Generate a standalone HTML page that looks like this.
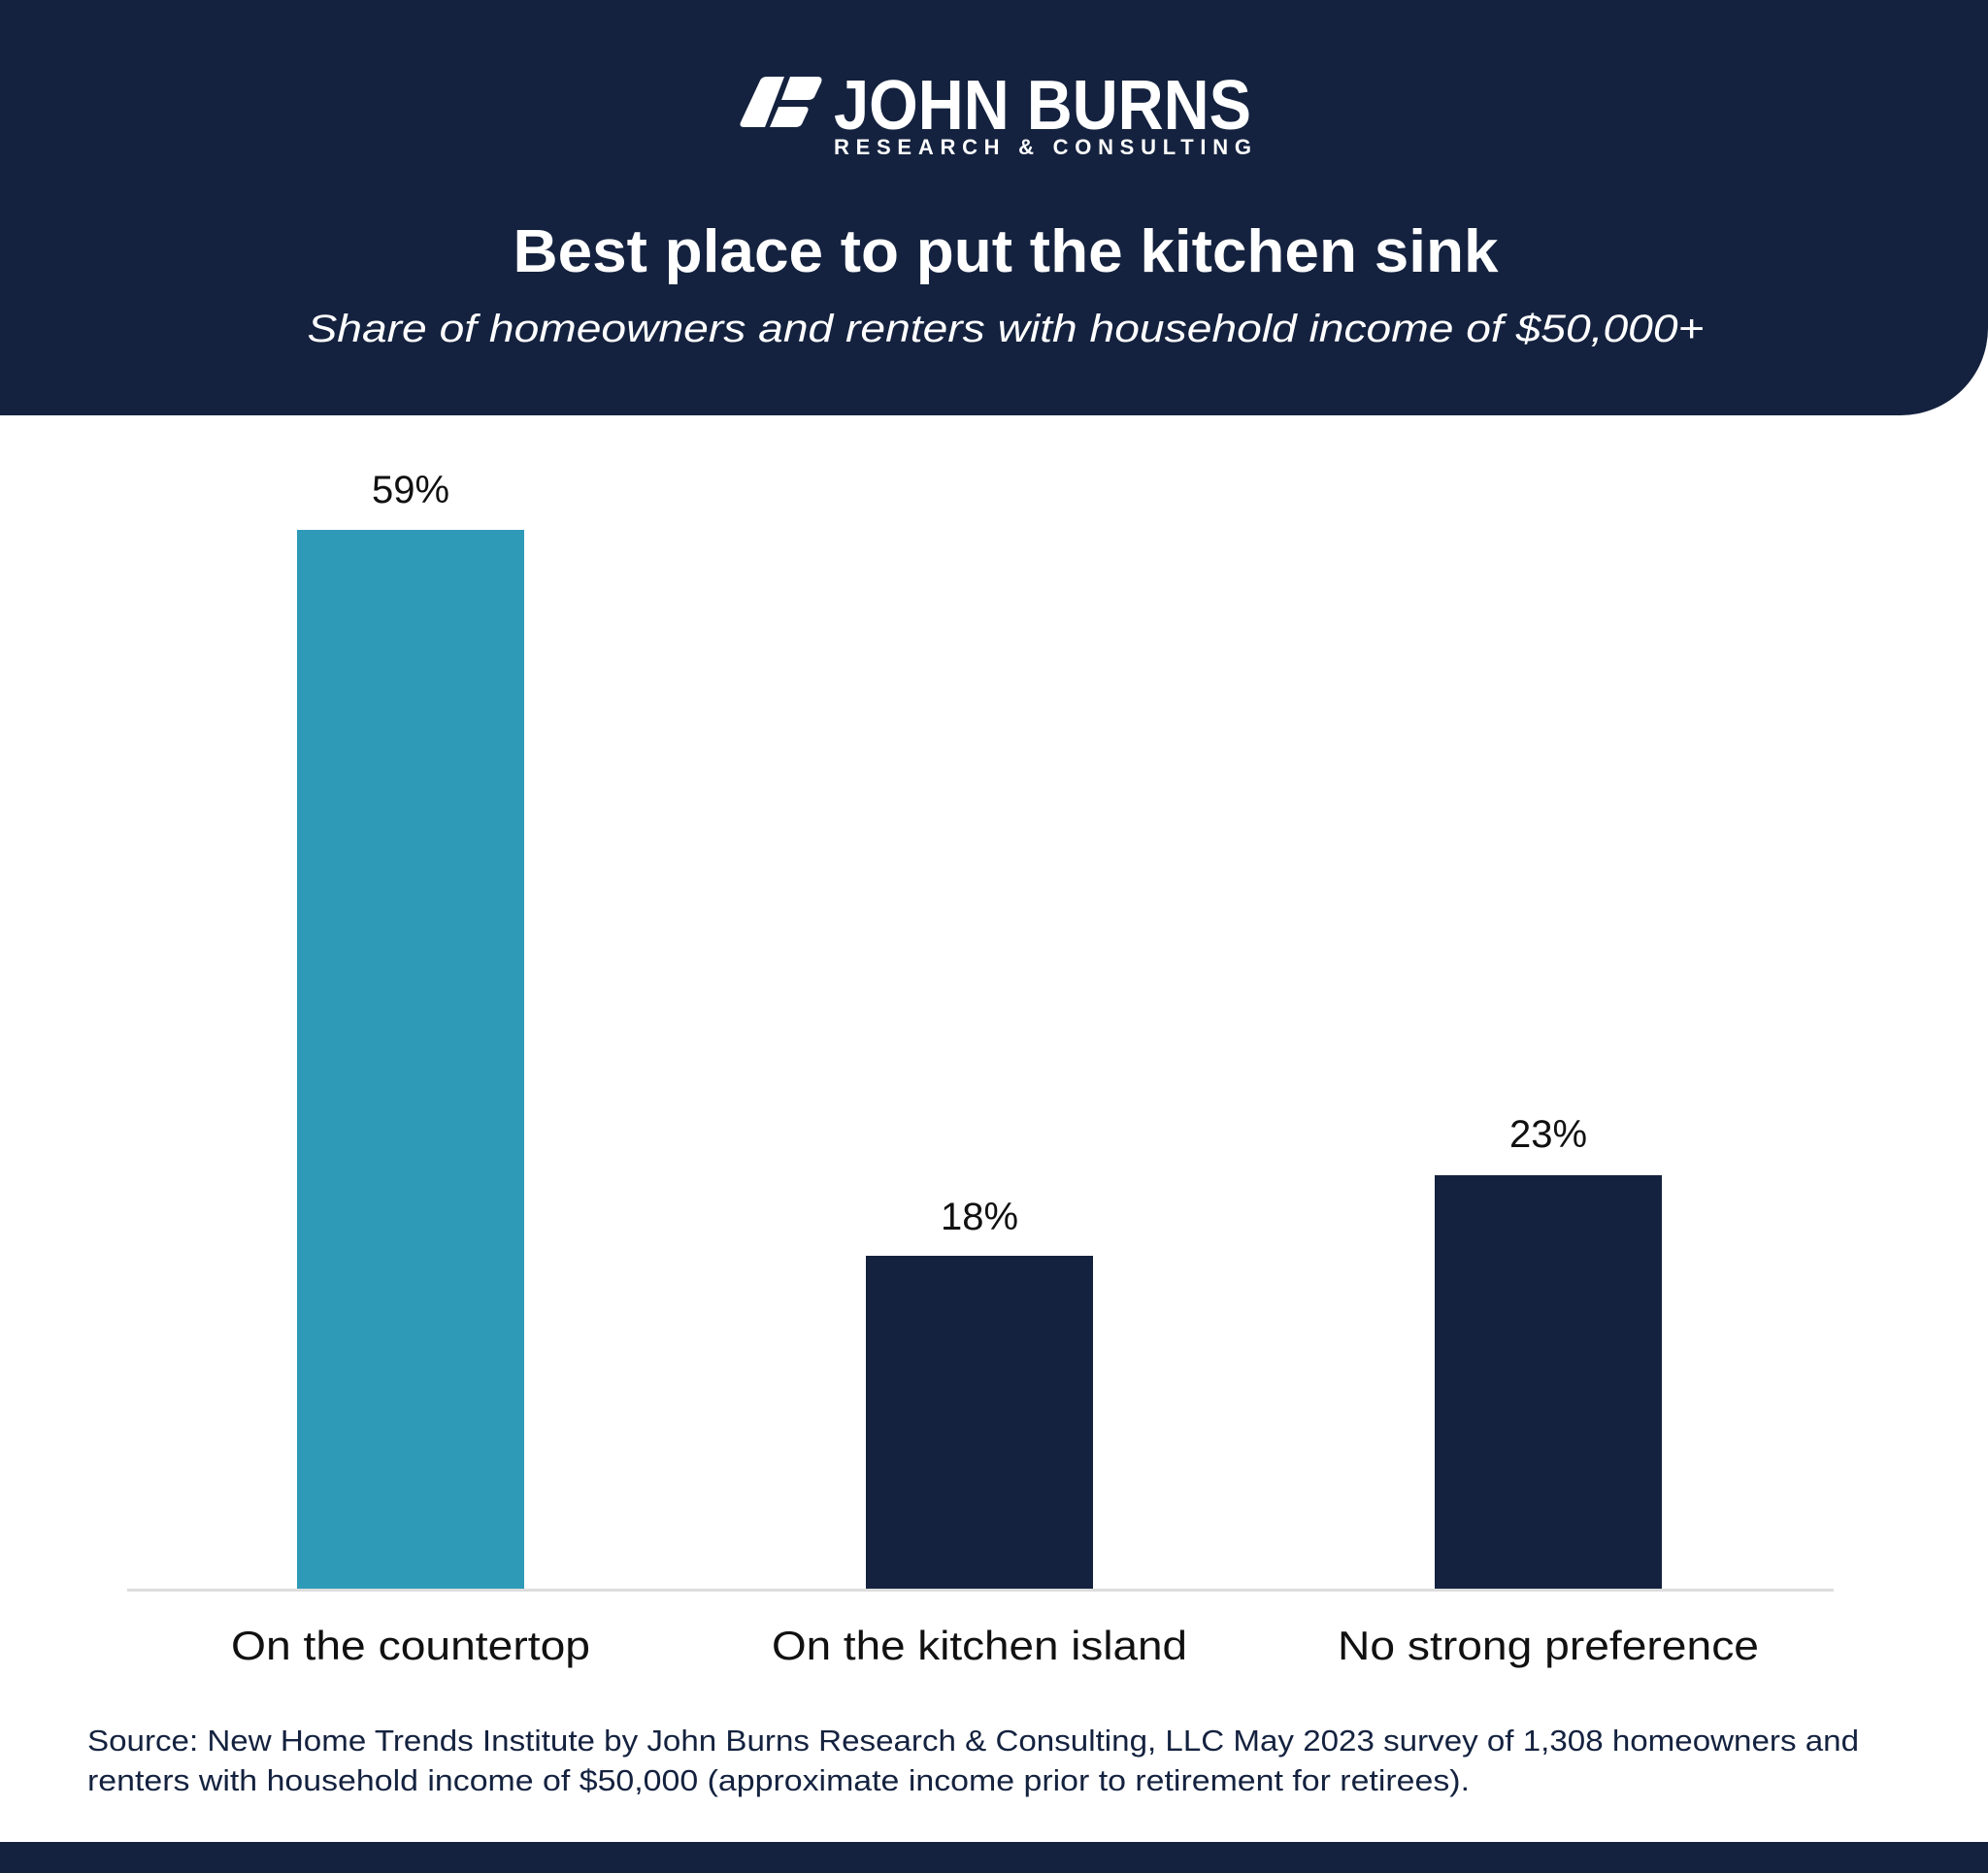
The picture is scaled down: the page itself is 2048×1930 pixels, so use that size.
<!DOCTYPE html>
<html><head><meta charset="utf-8"><style>
html,body{margin:0;padding:0;background:#fff;}
svg{display:block;}
text{font-family:"Liberation Sans",sans-serif;}
</style></head><body>
<svg width="2048" height="1930" viewBox="0 0 2048 1930" xmlns="http://www.w3.org/2000/svg">
<path d="M0 0 H2048 V338 A90 90 0 0 1 1958 428 H0 Z" fill="#14223F"/>
<g fill="#fff">
<path d="M783 83 Q785 79 790 79 H808 L788 131 H767 Q761 131 763 126 Z"/>
<path d="M814 79 H842 Q848 79 846 85 L839 100 Q837 103 832 103 H805 Z"/>
<path d="M802 110 H829 Q834 110 832 115 L826 128 Q824 131 819 131 H793 Z"/>
</g>
<text x="859" y="133" font-size="72" font-weight="bold" fill="#fff" textLength="430" lengthAdjust="spacingAndGlyphs">JOHN BURNS</text>
<text x="859" y="159" font-size="22" font-weight="bold" fill="#fff" textLength="430" lengthAdjust="spacing">RESEARCH &amp; CONSULTING</text>
<text x="1036" y="280" font-size="62" font-weight="bold" fill="#fff" text-anchor="middle" textLength="1015" lengthAdjust="spacingAndGlyphs">Best place to put the kitchen sink</text>
<text x="1036" y="352" font-size="40" font-style="italic" fill="#fff" text-anchor="middle" textLength="1439" lengthAdjust="spacingAndGlyphs">Share of homeowners and renters with household income of $50,000+</text>
<rect x="306" y="546" width="234" height="1093" fill="#2E9AB8"/>
<rect x="892" y="1294" width="234" height="345" fill="#14223F"/>
<rect x="1478" y="1211" width="234" height="428" fill="#14223F"/>
<rect x="131" y="1637" width="1758" height="3" fill="#DDDDDD"/>
<g font-size="40" fill="#111" text-anchor="middle">
<text x="423" y="518">59%</text>
<text x="1009" y="1267">18%</text>
<text x="1595" y="1182">23%</text>
</g>
<g font-size="42" fill="#111" text-anchor="middle">
<text x="423" y="1710" textLength="370" lengthAdjust="spacingAndGlyphs">On the countertop</text>
<text x="1009" y="1710" textLength="428" lengthAdjust="spacingAndGlyphs">On the kitchen island</text>
<text x="1595" y="1710" textLength="434" lengthAdjust="spacingAndGlyphs">No strong preference</text>
</g>
<g font-size="31" fill="#14223F">
<text x="90" y="1804" textLength="1825" lengthAdjust="spacingAndGlyphs">Source: New Home Trends Institute by John Burns Research &amp; Consulting, LLC May 2023 survey of 1,308 homeowners and</text>
<text x="90" y="1845" textLength="1424" lengthAdjust="spacingAndGlyphs">renters with household income of $50,000 (approximate income prior to retirement for retirees).</text>
</g>
<rect x="0" y="1898" width="2048" height="32" fill="#14223F"/>
</svg>
</body></html>
